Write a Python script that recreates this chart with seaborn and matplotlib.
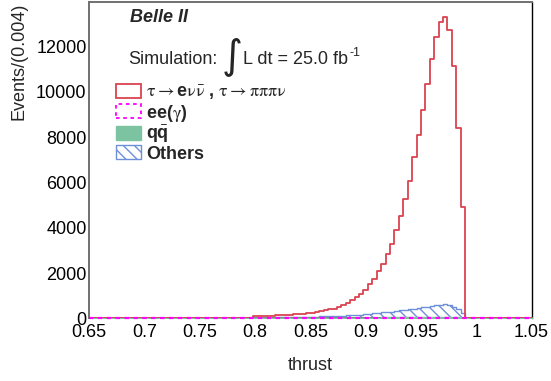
import numpy as np
import pandas as pd
import matplotlib
matplotlib.use("Agg")
import matplotlib.pyplot as plt
from matplotlib.patches import Patch
from matplotlib.ticker import FixedLocator, FixedFormatter, MultipleLocator
import seaborn as sns

# ---------------- data ----------------
bin_width = 0.004
x_lo, x_hi = 0.65, 1.05
first_bin_low = 0.798          # first non-empty bin (lower edge)

# tau -> e nu nubar , tau -> pi pi pi nu  (bins 0.798 ... 0.990)
signal = [90, 100, 105, 110, 120, 128, 137, 147, 158, 170,
          183, 200, 220, 245, 275, 310, 350, 390, 430, 500,
          573, 675, 795, 940, 1090, 1265, 1500, 1750, 2090, 2410,
          2820, 3290, 3880, 4540, 5260, 6060, 7120, 8090, 9220, 10350,
          11440, 12450, 13100, 13320, 12730, 11150, 8410, 4940]
# q qbar
qqbar = [3, 3, 4, 4, 5, 5, 6, 6, 7, 8,
         8, 9, 10, 11, 12, 13, 14, 15, 17, 18,
         20, 21, 23, 25, 27, 29, 31, 33, 35, 37,
         39, 41, 43, 45, 47, 49, 51, 53, 55, 57,
         58, 60, 62, 63, 62, 58, 50, 35]
# Others (stacked on q qbar)
others = [17, 21, 23, 26, 28, 31, 34, 38, 41, 44,
          48, 51, 55, 59, 64, 69, 76, 83, 89, 97,
          102, 109, 117, 125, 138, 151, 169, 187, 205, 223,
          241, 259, 277, 300, 325, 351, 379, 407, 435, 463,
          487, 515, 538, 552, 518, 442, 350, 215]
# ee(gamma): empty
eegamma = [0] * len(signal)

xtick_vals = [0.65, 0.7, 0.75, 0.8, 0.85, 0.9, 0.95, 1.0, 1.05]
xtick_labels = ["0.65", "0.7", "0.75", "0.8", "0.85", "0.9", "0.95", "1", "1.05"]
ytick_vals = [0, 2000, 4000, 6000, 8000, 10000, 12000]
ytick_labels = ["0", "2000", "4000", "6000", "8000", "10000", "12000"]

labels = [r"$\mathrm{\tau}\rightarrow$e$\mathrm{\nu}\bar{\mathrm{\nu}}$ , "
          r"$\mathrm{\tau}\rightarrow\mathrm{\pi\pi\pi\nu}$",
          r"ee($\mathrm{\gamma}$)",
          r"q$\bar{\mathbf{q}}$",
          "Others"]

# ---------------- colours ----------------
c_red = "#d9434f"
c_mag = "#ff00ff"
c_green = "#7cc4a1"
c_blue = "#6d8fd8"

# ---------------- style ----------------
sns.set_style("white")
plt.rcParams["font.family"] = ["Liberation Sans", "DejaVu Sans"]
plt.rcParams["mathtext.fontset"] = "custom"
plt.rcParams["mathtext.rm"] = "STIXGeneral"
plt.rcParams["mathtext.it"] = "STIXGeneral"
plt.rcParams["mathtext.bf"] = "Liberation Sans:bold"
plt.rcParams["hatch.color"] = c_blue
plt.rcParams["hatch.linewidth"] = 1.0

W, H = 551, 381
fig = plt.figure(figsize=(W / 100, H / 100), dpi=100)
L, R, B, T = 89.3, 531.5, 318.3, 1.7
ax = fig.add_axes([L / W, 1 - B / H, (R - L) / W, (B - T) / H])

# full binning over the axis range
nb = int(round((x_hi - x_lo) / bin_width))
edges = [float(e) for e in (x_lo + bin_width * np.arange(nb + 1))]
centers = 0.5 * (np.array(edges[:-1]) + np.array(edges[1:]))
k0 = int(round((first_bin_low - x_lo) / bin_width))

def full(vals):
    w = np.zeros(nb)
    w[k0:k0 + len(vals)] = vals
    return w

df = pd.DataFrame({
    "thrust": centers,
    "signal": full(signal),
    "qqbar": full(qqbar),
    "others_stack": full(np.array(others) + np.array(qqbar)),
    "eegamma": full(eegamma),
})

# Others (hatched, stacked on qqbar)
n0 = len(ax.collections)
sns.histplot(data=df, x="thrust", weights="others_stack", bins=edges, element="step",
             fill=True, color=c_blue, alpha=1, linewidth=1.0, ax=ax, zorder=2)
for col in ax.collections[n0:]:
    col.set_facecolor("none")
    col.set_edgecolor(c_blue)
    col.set_hatch("\\\\\\")
# q qbar (filled green)
n0 = len(ax.collections)
sns.histplot(data=df, x="thrust", weights="qqbar", bins=edges, element="step",
             fill=True, color=c_green, alpha=1, linewidth=1.0, ax=ax, zorder=3)
for col in ax.collections[n0:]:
    col.set_facecolor(c_green)
    col.set_edgecolor(c_green)
# signal (red outline)
sns.histplot(data=df, x="thrust", weights="signal", bins=edges, element="step",
             fill=False, color=c_red, linewidth=1.3, ax=ax, zorder=4)
# ee(gamma) (magenta dashed, empty)
n0 = len(ax.lines)
sns.histplot(data=df, x="thrust", weights="eegamma", bins=edges, element="step",
             fill=False, color=c_mag, linewidth=1.6, linestyle=(0, (2, 2)),
             ax=ax, zorder=5)
for ln in ax.lines[n0:]:
    ln.set_clip_on(False)

ax.set_xlim(x_lo, x_hi)
ax.set_ylim(0, 13990)

ax.xaxis.set_major_locator(FixedLocator(xtick_vals))
ax.xaxis.set_major_formatter(FixedFormatter(xtick_labels))
ax.xaxis.set_minor_locator(MultipleLocator(0.01))
ax.yaxis.set_major_locator(FixedLocator(ytick_vals))
ax.yaxis.set_major_formatter(FixedFormatter(ytick_labels))
ax.yaxis.set_minor_locator(MultipleLocator(500))

ax.tick_params(axis="both", which="both", direction="in", top=False, right=False,
               color="black", width=0.8, labelsize=13, labelcolor="black")
ax.tick_params(axis="both", which="major", length=6.5)
ax.tick_params(axis="both", which="minor", length=3.5)
ax.tick_params(axis="x", which="major", pad=4)
ax.tick_params(axis="y", which="major", pad=2)

for s in ["left", "top", "bottom"]:
    ax.spines[s].set_color("#707070")
    ax.spines[s].set_linewidth(1.4)
ax.spines["right"].set_color("black")
ax.spines["right"].set_linewidth(1.0)

ax.set_xlabel("thrust", fontsize=13)
ax.xaxis.set_label_coords(0.5, -0.122)
ax.xaxis.label.set_va("top")
ax.set_ylabel("Events/(0.004)", fontsize=13, ha="right", va="center",
              rotation_mode="anchor")
ax.yaxis.set_label_coords((19 - L) / (R - L), 0.997)

def px(x, y):
    return (x / W, 1 - y / H)

fig.text(*px(130, 22), "Belle II", fontsize=13, fontweight="bold",
         fontstyle="italic", va="baseline", ha="left")
fig.text(*px(128, 64), "Simulation:", fontsize=13, va="baseline", ha="left")
fig.text(*px(222, 67), "\u222b", fontsize=29, va="baseline", ha="left",
         family=["DejaVu Sans"])
fig.text(*px(243, 64), "L dt = 25.0 fb", fontsize=13, va="baseline", ha="left")
fig.text(*px(349.5, 56), "-1", fontsize=9, va="baseline", ha="left")

handles = [
    Patch(facecolor="none", edgecolor=c_red, linewidth=1.3),
    Patch(facecolor="none", edgecolor=c_mag, linewidth=1.3, linestyle=(0, (2, 2))),
    Patch(facecolor=c_green, edgecolor=c_green, linewidth=1.0),
    Patch(facecolor="none", edgecolor=c_blue, linewidth=1.0, hatch="\\\\\\"),
]
ax.legend(handles, labels, loc="upper left", bbox_to_anchor=px(116, 84),
          bbox_transform=fig.transFigure, frameon=False, borderpad=0,
          borderaxespad=0, handlelength=1.4, handleheight=0.8,
          handletextpad=0.25, labelspacing=0.02,
          prop={"family": "Liberation Sans", "weight": "bold", "size": 13})

fig.savefig("out.png", dpi=100)
